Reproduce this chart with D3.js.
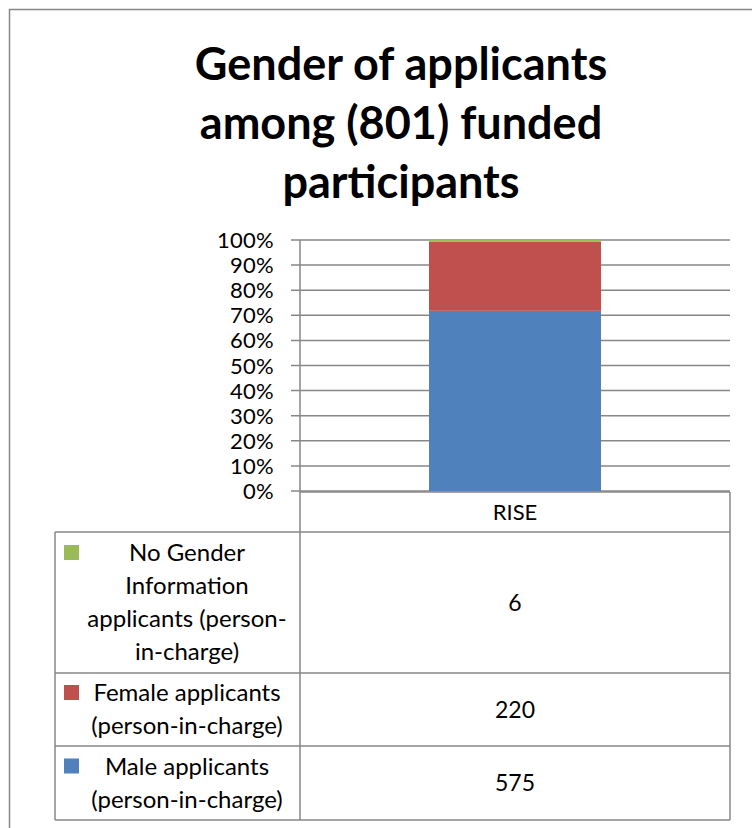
<!DOCTYPE html>
<html>
<head>
<script src="https://cdn.jsdelivr.net/npm/d3@7"></script>
<style>
  body { margin: 0; background: #fff; }
  text { font-family: Lato, "Open Sans", sans-serif; fill: #000; }
</style>
</head>
<body>
<script>
// data
var category = ["RISE"];
var seriesNames = ["No Gender Information applicants (person-in-charge)",
                   "Female applicants (person-in-charge)",
                   "Male applicants (person-in-charge)"];
var seriesLines = [["No Gender", "Information", "applicants (person-", "in-charge)"],
                   ["Female applicants", "(person-in-charge)"],
                   ["Male applicants", "(person-in-charge)"]];
var seriesValues = [6, 220, 575];
var seriesColors = ["#9bbb59", "#c0504d", "#4f81bd"];
var yTicks = [0, 0.1, 0.2, 0.3, 0.4, 0.5, 0.6, 0.7, 0.8, 0.9, 1];
var titleLines = ["Gender of applicants", "among (801) funded", "participants"];

var width = 752, height = 828;
var grey = "#878787";

var svg = d3.select("body").append("svg")
  .attr("width", width)
  .attr("height", height);

// outer chart border (runs off right and bottom)
svg.append("rect")
  .attr("x", 9.5).attr("y", 9.5)
  .attr("width", 800).attr("height", 900)
  .attr("fill", "none").attr("stroke", grey).attr("stroke-width", 1.5);

// title
svg.append("g").selectAll("text")
  .data(titleLines)
  .enter().append("text")
  .attr("x", 401)
  .attr("y", function(d, i) { return 80 + i * 59; })
  .attr("text-anchor", "middle")
  .style("font-size", "45px")
  .style("font-weight", "bold")
  .text(function(d) { return d; });

var plotLeft = 300, plotRight = 730, plotTop = 240, plotBottom = 491;

var x = d3.scaleBand().domain(category).range([plotLeft, plotRight]).paddingInner(0.6).paddingOuter(0.3);
var y = d3.scaleLinear().domain([0, 1]).range([plotBottom, plotTop]);

// gridlines
svg.append("g").selectAll("line")
  .data(yTicks)
  .enter().append("line")
  .attr("x1", plotLeft - 9).attr("x2", plotRight)
  .attr("y1", function(d) { return y(d); })
  .attr("y2", function(d) { return y(d); })
  .attr("stroke", grey).attr("stroke-width", 1.5);

// y axis labels
svg.append("g").selectAll("text")
  .data(yTicks)
  .enter().append("text")
  .attr("x", 274)
  .attr("y", function(d) { return y(d) + 8; })
  .attr("text-anchor", "end")
  .style("font-size", "22px")
  .style("letter-spacing", "0.3px")
  .text(function(d) { return d3.format(".0%")(d); });

// stacked bar, male at bottom
var total = d3.sum(seriesValues);
var order = [2, 1, 0];
var cum = 0;
var stacks = order.map(function(i) {
  var s = { i: i, y0: cum / total, y1: (cum + seriesValues[i]) / total };
  cum += seriesValues[i];
  return s;
});
var barW = 172;
svg.append("g").selectAll("rect")
  .data(stacks)
  .enter().append("rect")
  .attr("x", x("RISE") + x.bandwidth() / 2 - barW / 2)
  .attr("width", barW)
  .attr("y", function(d) { return y(d.y1); })
  .attr("height", function(d) { return y(d.y0) - y(d.y1); })
  .attr("fill", function(d) { return seriesColors[d.i]; });

// y axis line
svg.append("line")
  .attr("x1", plotLeft).attr("x2", plotLeft)
  .attr("y1", plotTop).attr("y2", 820)
  .attr("stroke", grey).attr("stroke-width", 1.5);

// data table
var tableLeft = 55;
var rowEdges = [492, 532, 673, 746, 820];
var tg = svg.append("g").attr("fill", "none").attr("stroke", grey).attr("stroke-width", 1.5);
tg.append("line").attr("x1", plotLeft).attr("x2", plotRight).attr("y1", rowEdges[0]).attr("y2", rowEdges[0]);
tg.append("line").attr("x1", plotRight).attr("x2", plotRight).attr("y1", rowEdges[0]).attr("y2", rowEdges[4]);
tg.selectAll("line.h")
  .data(rowEdges.slice(1))
  .enter().append("line")
  .attr("class", "h")
  .attr("x1", tableLeft).attr("x2", plotRight)
  .attr("y1", function(d) { return d; }).attr("y2", function(d) { return d; });
tg.append("line").attr("x1", tableLeft).attr("x2", tableLeft).attr("y1", rowEdges[1]).attr("y2", rowEdges[4]);

// header
svg.append("text")
  .attr("x", x("RISE") + x.bandwidth() / 2)
  .attr("y", (rowEdges[0] + rowEdges[1]) / 2 + 8)
  .attr("text-anchor", "middle")
  .style("font-size", "22px")
  .text(category[0]);

var lineH = 33;
seriesValues.forEach(function(v, i) {
  var top = rowEdges[i + 1], bot = rowEdges[i + 2];
  var mid = (top + bot) / 2;
  var lines = seriesLines[i];
  var firstY = mid - (lines.length - 1) * lineH / 2 + 8;
  svg.append("rect")
    .attr("x", 64).attr("y", firstY - 16)
    .attr("width", 15).attr("height", 15)
    .attr("fill", seriesColors[i]);
  svg.append("g").selectAll("text")
    .data(lines)
    .enter().append("text")
    .attr("x", 187)
    .attr("y", function(d, k) { return firstY + k * lineH; })
    .attr("text-anchor", "middle")
    .style("font-size", "24px")
    .text(function(d) { return d; });
  svg.append("text")
    .attr("x", x("RISE") + x.bandwidth() / 2)
    .attr("y", mid + 8)
    .attr("text-anchor", "middle")
    .style("font-size", "23px")
    .text(v);
});
</script>
</body>
</html>
